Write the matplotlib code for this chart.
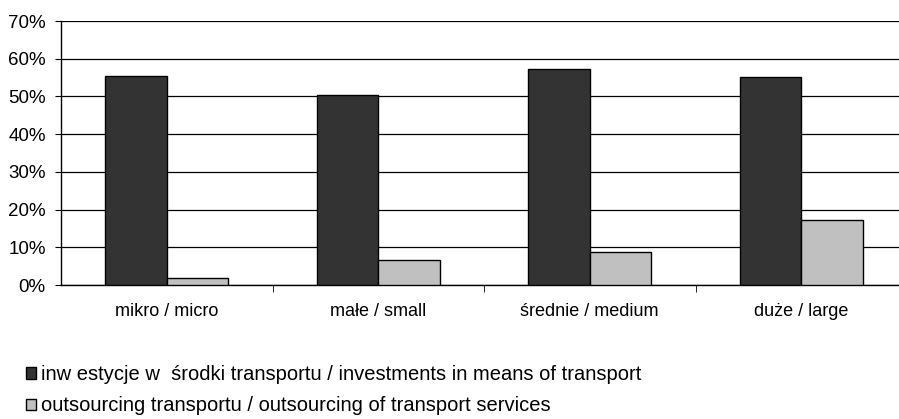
import matplotlib
matplotlib.use("Agg")
import matplotlib.pyplot as plt
from matplotlib.patches import Patch
import numpy as np

plt.rcParams['font.family'] = ['Liberation Sans', 'DejaVu Sans']

categories = ["mikro / micro", "małe / small", "średnie / medium", "duże / large"]
series_names = ["inw estycje w  środki transportu / investments in means of transport",
                "outsourcing transportu / outsourcing of transport services"]
investments = [55.5, 50.4, 57.3, 55.1]
outsourcing = [1.9, 6.5, 8.8, 17.2]
y_ticks = [0, 10, 20, 30, 40, 50, 60, 70]
y_tick_labels = ["0%", "10%", "20%", "30%", "40%", "50%", "60%", "70%"]

colors = ["#333333", "#c0c0c0"]

fig = plt.figure(figsize=(8.99, 4.19), dpi=100)
ax = fig.add_axes([61/899, 1-285/419, (907-61)/899, (285-21)/419])

x = np.arange(len(categories))
w = 0.29
ax.bar(x - w/2, investments, w, color=colors[0], edgecolor="black", linewidth=1.0, zorder=3)
ax.bar(x + w/2, outsourcing, w, color=colors[1], edgecolor="black", linewidth=1.0, zorder=3)

ax.set_xlim(-0.5, len(categories) - 0.5)
ax.set_ylim(0, 70)
ax.set_yticks(y_ticks)
ax.set_yticklabels(y_tick_labels, fontsize=13.5)
ax.yaxis.grid(True, color="black", linewidth=0.9, zorder=0)
ax.set_axisbelow(True)

ax.set_xticks(x)
ax.set_xticklabels(categories, fontsize=13)
ax.tick_params(axis='x', length=0, pad=13)
ax.set_xticks(np.arange(len(categories) - 1) + 0.5, minor=True)
ax.tick_params(axis='x', which='minor', length=5, direction='out', color='black')
ax.tick_params(axis='y', length=4, direction='out', pad=7)

for s in ["top", "right"]:
    ax.spines[s].set_visible(False)
ax.spines["left"].set_linewidth(1.0)
ax.spines["bottom"].set_linewidth(1.0)

handles = [Patch(facecolor=c, edgecolor="black", linewidth=1.0) for c in colors]
fig.legend(handles, series_names, loc="upper left", bbox_to_anchor=(0.029, 1 - 365/419),
           frameon=False, fontsize=14.5, handlelength=0.5, handleheight=0.5,
           handletextpad=0.25, labelspacing=0.62, borderaxespad=0, borderpad=0)

fig.savefig("out.png", dpi=100)
